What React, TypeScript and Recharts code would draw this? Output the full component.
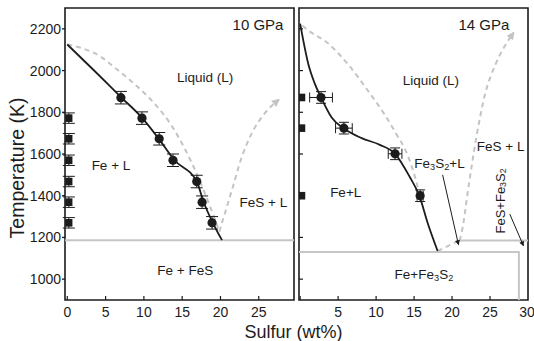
import React from 'react';
import {
  ComposedChart,
  Line,
  Scatter,
  XAxis,
  YAxis,
  ErrorBar,
  ReferenceArea,
  ReferenceLine,
  ReferenceDot,
} from 'recharts';

const FONT = 'Arial, "Liberation Sans", Helvetica, sans-serif';
const INK = '#1c1c1c';
const GRAY_LINE = '#c6c6c6';
const GRAY_DASH = '#c4c4c4';

const tempTicks = [1000, 1200, 1400, 1600, 1800, 2000, 2200];
const sulfurTicks10 = [0, 5, 10, 15, 20, 25];
const sulfurTicks14 = [0, 5, 10, 15, 20, 25, 30];

// ---- 10 GPa ----
const fit10 = [
  { x: 0, t: 2125 }, { x: 3.4, t: 2004 }, { x: 7.0, t: 1873 }, { x: 9.8, t: 1772 },
  { x: 12.0, t: 1670 }, { x: 14.0, t: 1570 }, { x: 16.9, t: 1468 }, { x: 17.8, t: 1370 },
  { x: 19.0, t: 1270 }, { x: 20.2, t: 1187 },
];
const liquidus10 = [
  { x: 0, t: 2125 }, { x: 1.7, t: 2110 }, { x: 4.3, t: 2068 }, { x: 6.5, t: 2005 },
  { x: 9.1, t: 1925 }, { x: 11.3, t: 1845 }, { x: 13.4, t: 1748 }, { x: 15.3, t: 1628 },
  { x: 17.2, t: 1480 }, { x: 18.6, t: 1352 }, { x: 19.85, t: 1228 },
];
const fesBranch10 = [
  { x: 19.85, t: 1228 }, { x: 21.5, t: 1428 }, { x: 22.8, t: 1588 }, { x: 24.1, t: 1700 },
  { x: 25.8, t: 1796 }, { x: 27.6, t: 1860 },
];
const circles10 = [
  { x: 7.0, t: 1870, ey: 30 }, { x: 9.75, t: 1772, ey: 30 }, { x: 12.0, t: 1673, ey: 30 },
  { x: 13.8, t: 1570, ey: 30 }, { x: 16.9, t: 1468, ey: 30 }, { x: 17.6, t: 1369, ey: 30 },
  { x: 18.9, t: 1270, ey: 30 },
];
const squares10 = [
  { x: 0.2, t: 1772, ey: 25 }, { x: 0.2, t: 1673, ey: 25 }, { x: 0.2, t: 1570, ey: 25 },
  { x: 0.2, t: 1468, ey: 25 }, { x: 0.2, t: 1369, ey: 25 }, { x: 0.2, t: 1270, ey: 25 },
];
const eutectic10 = 1187;
const labels10 = [
  { x: 24.9, t: 2221, text: '10 GPa', size: 15 },
  { x: 18.0, t: 1971, text: 'Liquid (L)', size: 13.5 },
  { x: 5.7, t: 1548, text: 'Fe + L', size: 13.5 },
  { x: 25.6, t: 1370, text: 'FeS + L', size: 13.5 },
  { x: 15.4, t: 1043, text: 'Fe + FeS', size: 13.5 },
];

// ---- 14 GPa ----
const fit14 = [
  { x: 0, t: 2225 }, { x: 1.1, t: 2028 }, { x: 1.9, t: 1940 }, { x: 2.8, t: 1868 },
  { x: 4.15, t: 1775 }, { x: 5.76, t: 1722 }, { x: 8.1, t: 1676 }, { x: 10.5, t: 1644 },
  { x: 12.5, t: 1601 }, { x: 14.4, t: 1492 }, { x: 15.7, t: 1399 }, { x: 16.8, t: 1268 },
  { x: 18.1, t: 1135 },
];
const liquidus14 = [
  { x: 0.3, t: 2215 }, { x: 0.9, t: 2197 }, { x: 3.7, t: 2130 }, { x: 6.3, t: 2030 },
  { x: 8.9, t: 1905 }, { x: 11.1, t: 1790 }, { x: 12.6, t: 1700 }, { x: 14.2, t: 1590 },
  { x: 15.2, t: 1480 }, { x: 15.7, t: 1410 },
];
const peritectic14 = [{ x: 18.1, t: 1135 }, { x: 20.9, t: 1185 }];
const fesBranch14 = [
  { x: 21.0, t: 1185 }, { x: 21.3, t: 1230 }, { x: 22.2, t: 1450 }, { x: 23.2, t: 1680 },
  { x: 24.3, t: 1880 }, { x: 25.7, t: 2028 }, { x: 26.8, t: 2109 }, { x: 28.1, t: 2181 },
];
const eutectic14 = [{ x: -0.15, t: 1130 }, { x: 28.8, t: 1130 }, { x: 28.8, t: 900 }];
const upper14 = [{ x: 21.0, t: 1185 }, { x: 30, t: 1185 }];
const arrowA14 = [{ x: 18.76, t: 1500 }, { x: 20.85, t: 1165 }];
const arrowB14 = [{ x: 27.6, t: 1312 }, { x: 29.4, t: 1160 }];
const circles14 = [
  { x: 2.75, t: 1871, ex: 1.5, ey: 28 }, { x: 5.76, t: 1724, ex: 1.1, ey: 28 },
  { x: 12.5, t: 1601, ex: 0.9, ey: 28 }, { x: 15.8, t: 1400, ex: 0.4, ey: 28 },
];
const squares14 = [{ x: 0.2, t: 1871 }, { x: 0.2, t: 1724 }, { x: 0.2, t: 1400 }];
const labels14 = [
  { x: 24.2, t: 2221, text: '14 GPa', size: 15 },
  { x: 17.2, t: 1956, text: 'Liquid (L)', size: 13.5 },
  { x: 6.0, t: 1418, text: 'Fe+L', size: 13.5 },
  { x: 18.35, t: 1557, text: 'Fe_3S_2+L', size: 13.5 },
  { x: 26.4, t: 1639, text: 'FeS + L', size: 13.5 },
  { x: 26.25, t: 1375, text: 'FeS+Fe_3S_2', size: 13, rotate: true },
  { x: 16.3, t: 1024, text: 'Fe+Fe_3S_2', size: 13.5 },
];

const domain10: [number, number] = [-0.3, 29.6];
const domain14: [number, number] = [-0.15, 30];
const tempDomain: [number, number] = [900, 2300];

// tick positions for the inward tick marks
const xTickMarks10 = sulfurTicks10.map((x) => ({ x, t: tempDomain[0] }));
const xTickMarks14 = sulfurTicks14.filter((x) => x < domain14[1]).map((x) => ({ x, t: tempDomain[0] }));
const yTickMarks14 = tempTicks.map((t) => ({ x: domain14[0], t }));

function Tag({ cx, cy, text, size, rotate }: any) {
  const parts = text.split(/(_\d)/).filter((p: string) => p !== '');
  const shift = size * 0.28;
  let lowered = false;
  return (
    <text
      x={cx}
      y={cy}
      textAnchor="middle"
      dominantBaseline="central"
      fontSize={size}
      fontFamily={FONT}
      fill={INK}
      transform={rotate ? `rotate(-90 ${cx} ${cy})` : undefined}
    >
      {parts.map((p: string, i: number) => {
        if (p.startsWith('_')) {
          const dy = lowered ? 0 : shift;
          lowered = true;
          return (
            <tspan key={i} fontSize={size * 0.68} dy={dy}>
              {p.slice(1)}
            </tspan>
          );
        }
        const dy = lowered ? -shift : 0;
        lowered = false;
        return (
          <tspan key={i} dy={dy}>
            {p}
          </tspan>
        );
      })}
    </text>
  );
}

const circleShape = (p: any) => <circle cx={p.cx} cy={p.cy} r={4.6} fill={INK} />;
const squareShape = (p: any) => <rect x={p.cx - 3.6} y={p.cy - 3.8} width={7.2} height={7.6} fill={INK} />;
const upTick = (p: any) => <line x1={p.cx} x2={p.cx} y1={p.cy} y2={p.cy - 4} stroke={INK} strokeWidth={1.2} />;
const rightTick = (p: any) => <line x1={p.cx} x2={p.cx + 4} y1={p.cy} y2={p.cy} stroke={INK} strokeWidth={1.2} />;

const Markers = () => (
  <defs>
    <marker id="headGray" viewBox="0 0 10 10" refX="8" refY="5" markerWidth="9" markerHeight="8"
      orient="auto" markerUnits="userSpaceOnUse">
      <path d="M0,0 L10,5 L0,10 z" fill={GRAY_DASH} />
    </marker>
    <marker id="headInk" viewBox="0 0 10 10" refX="9" refY="5" markerWidth="7" markerHeight="5"
      orient="auto" markerUnits="userSpaceOnUse">
      <path d="M0,0 L10,5 L0,10 z" fill={INK} />
    </marker>
  </defs>
);

const tickStyle = { fill: INK, fontSize: 14, fontFamily: FONT };

function Panel10() {
  return (
    <ComposedChart width={300} height={341} margin={{ top: 8, right: 6, bottom: 11, left: 8 }}>
      <Markers />
      <XAxis dataKey="x" type="number" domain={domain10} ticks={sulfurTicks10} allowDataOverflow
        height={30} tick={tickStyle} tickSize={0} tickMargin={7} axisLine={false} tickLine={false} />
      <YAxis dataKey="t" type="number" domain={tempDomain} ticks={tempTicks} allowDataOverflow
        width={57} tick={tickStyle} tickSize={3} tickMargin={1} axisLine={false}
        tickLine={{ stroke: INK, strokeWidth: 1.3 }} />
      <ReferenceLine y={eutectic10} stroke={GRAY_LINE} strokeWidth={2} />
      <Line data={liquidus10} dataKey="t" type="monotone" stroke={GRAY_DASH} strokeWidth={2}
        strokeDasharray="5 4" dot={false} isAnimationActive={false} />
      <Line data={fesBranch10} dataKey="t" type="monotone" stroke={GRAY_DASH} strokeWidth={2}
        strokeDasharray="5 4" dot={false} markerEnd="url(#headGray)" isAnimationActive={false} />
      <Line data={fit10} dataKey="t" type="monotone" stroke={INK} strokeWidth={1.8} dot={false}
        isAnimationActive={false} />
      <Scatter data={circles10} shape={circleShape} isAnimationActive={false}>
        <ErrorBar dataKey="ey" direction="y" width={6} stroke={INK} strokeWidth={1} isAnimationActive={false} />
      </Scatter>
      <Scatter data={squares10} shape={squareShape} isAnimationActive={false}>
        <ErrorBar dataKey="ey" direction="y" width={6} stroke={INK} strokeWidth={1} isAnimationActive={false} />
      </Scatter>
      <Scatter data={xTickMarks10} shape={upTick} isAnimationActive={false} />
      <ReferenceArea x1={domain10[0]} x2={domain10[1]} y1={tempDomain[0]} y2={tempDomain[1]}
        fill="none" fillOpacity={0} stroke={INK} strokeWidth={1.6} />
      {labels10.map((l) => (
        <ReferenceDot key={l.text} x={l.x} y={l.t} r={0}
          shape={(p: any) => <Tag cx={p.cx} cy={p.cy} text={l.text} size={l.size} />} />
      ))}
    </ComposedChart>
  );
}

function Panel14() {
  return (
    <ComposedChart width={236} height={341} margin={{ top: 8, right: 6, bottom: 11, left: 0 }}>
      <Markers />
      <XAxis dataKey="x" type="number" domain={domain14} ticks={sulfurTicks14} allowDataOverflow
        height={30} tick={tickStyle} tickSize={0} tickMargin={7} axisLine={false} tickLine={false} />
      <YAxis dataKey="t" type="number" domain={tempDomain} ticks={tempTicks} allowDataOverflow
        width={1} tick={false} tickLine={false} axisLine={false} />
      <Line data={eutectic14} dataKey="t" type="linear" stroke={GRAY_LINE} strokeWidth={2} dot={false}
        isAnimationActive={false} />
      <Line data={upper14} dataKey="t" type="linear" stroke={GRAY_LINE} strokeWidth={2} dot={false}
        isAnimationActive={false} />
      <Line data={liquidus14} dataKey="t" type="monotone" stroke={GRAY_DASH} strokeWidth={2}
        strokeDasharray="5 4" dot={false} isAnimationActive={false} />
      <Line data={peritectic14} dataKey="t" type="linear" stroke={GRAY_DASH} strokeWidth={2}
        strokeDasharray="5 4" dot={false} isAnimationActive={false} />
      <Line data={fesBranch14} dataKey="t" type="monotone" stroke={GRAY_DASH} strokeWidth={2}
        strokeDasharray="5 4" dot={false} markerEnd="url(#headGray)" isAnimationActive={false} />
      <Line data={fit14} dataKey="t" type="monotone" stroke={INK} strokeWidth={1.8} dot={false}
        isAnimationActive={false} />
      <Line data={arrowA14} dataKey="t" type="linear" stroke={INK} strokeWidth={1} dot={false}
        markerEnd="url(#headInk)" isAnimationActive={false} />
      <Line data={arrowB14} dataKey="t" type="linear" stroke={INK} strokeWidth={1} dot={false}
        markerEnd="url(#headInk)" isAnimationActive={false} />
      <Scatter data={circles14} shape={circleShape} isAnimationActive={false}>
        <ErrorBar dataKey="ey" direction="y" width={5} stroke={INK} strokeWidth={1} isAnimationActive={false} />
        <ErrorBar dataKey="ex" direction="x" width={5} stroke={INK} strokeWidth={1} isAnimationActive={false} />
      </Scatter>
      <Scatter data={squares14} shape={squareShape} isAnimationActive={false} />
      <Scatter data={xTickMarks14} shape={upTick} isAnimationActive={false} />
      <Scatter data={yTickMarks14} shape={rightTick} isAnimationActive={false} />
      <ReferenceArea x1={domain14[0]} x2={domain14[1]} y1={tempDomain[0]} y2={tempDomain[1]}
        fill="none" fillOpacity={0} stroke={INK} strokeWidth={1.6} />
      {labels14.map((l) => (
        <ReferenceDot key={l.text} x={l.x} y={l.t} r={0}
          shape={(p: any) => <Tag cx={p.cx} cy={p.cy} text={l.text} size={l.size} rotate={l.rotate} />} />
      ))}
    </ComposedChart>
  );
}

export default function App() {
  return (
    <div style={{ position: 'absolute', left: 0, top: 0, width: 534, height: 341, background: '#fff', overflow: 'hidden' }}>
      <div style={{ position: 'absolute', left: 0, top: 0 }}>
        <Panel10 />
      </div>
      <div style={{ position: 'absolute', left: 298, top: 0 }}>
        <Panel14 />
      </div>
      <svg width={534} height={341} style={{ position: 'absolute', left: 0, top: 0, pointerEvents: 'none' }}>
        <text x={17} y={168} textAnchor="middle" dominantBaseline="central" fontSize={19.5}
          fontFamily={FONT} fill={INK} transform="rotate(-90 17 168)">
          Temperature (K)
        </text>
        <text x={293.5} y={332} textAnchor="middle" dominantBaseline="central" fontSize={18}
          fontFamily={FONT} fill={INK}>
          Sulfur (wt%)
        </text>
      </svg>
    </div>
  );
}
